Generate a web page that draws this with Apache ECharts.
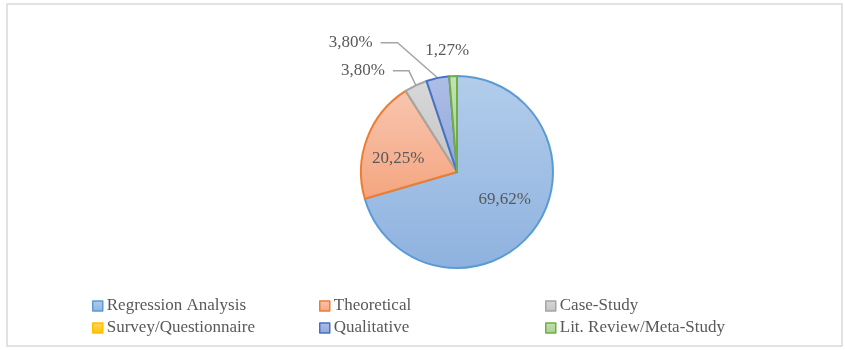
<!DOCTYPE html>
<html>
<head>
<meta charset="utf-8">
<script src="https://cdn.jsdelivr.net/npm/echarts@6/dist/echarts.min.js"></script>
<style>
  html, body { margin: 0; padding: 0; background: #fff; }
  #chart { width: 845px; height: 350px; }
</style>
</head>
<body>
<div id="chart"></div>
<script>
// Research method shares (percent of studies)
const categories = ['Regression Analysis', 'Theoretical', 'Case-Study', 'Survey/Questionnaire', 'Qualitative', 'Lit. Review/Meta-Study'];
const shares = [69.62, 20.25, 3.80, 0, 3.80, 1.27];

// Fill gradients (top, bottom) and outline colours per method
const fillTop = ['#b3cdeb', '#f8c6b0', '#d8d8d8', '#ffd966', '#aebee6', '#c3e2b2'];
const fillBottom = ['#8eb2df', '#f4a57f', '#c4c4c4', '#ffc000', '#92a6dc', '#a8d08d'];
const outline = ['#5b9bd5', '#ed7d31', '#a5a5a5', '#ffc000', '#4472c4', '#70ad47'];

const fontFamily = '"Liberation Serif", "DejaVu Serif", serif';
const textColor = '#595959';

function grad(i) {
  return new echarts.graphic.LinearGradient(0, 0, 0, 1, [
    { offset: 0, color: fillTop[i] },
    { offset: 1, color: fillBottom[i] }
  ]);
}

// Per-slice label placement: large slices inside, small ones outside with leader lines
const labelSetup = [
  { position: 'inside' },
  { position: 'inside' },
  { position: 'outside', line: true, length: 16, length2: 16 },
  { show: false },
  { position: 'outside', line: true, length: 36, length2: 50 },
  { position: 'outside', line: false, length: 26, length2: 0 }
];

// Label nudges (dx, dy) and leader-line elbow shift per slice
const labelNudge = [[7, -3], [-11, 5], [0, 0], [0, 0], [0, 0], [25, 0]];
const elbowShift = [0, 0, 0, 0, -33, 0];

const pieData = categories.map((name, i) => {
  const s = labelSetup[i];
  return {
    name: name,
    value: shares[i],
    itemStyle: {
      color: grad(i),
      borderColor: outline[i],
      borderWidth: shares[i] > 0 ? 2 : 0
    },
    label: { show: s.show !== false, position: s.position || 'outside' },
    labelLine: {
      show: !!s.line,
      length: s.length || 0,
      length2: s.length2 || 0
    }
  };
});

function legendFor(names, left) {
  return {
    orient: 'vertical',
    left: left,
    top: 297,
    padding: 0,
    itemWidth: 10,
    itemHeight: 10,
    itemGap: 4,
    icon: 'rect',
    selectedMode: false,
    data: names.map(n => {
      const i = categories.indexOf(n);
      return {
        name: n,
        itemStyle: { color: grad(i), borderColor: outline[i], borderWidth: 1.5 }
      };
    }),
    textStyle: {
      fontFamily: fontFamily,
      fontSize: 17,
      lineHeight: 18,
      color: textColor,
      padding: [0, 0, 0, -1]
    }
  };
}

const chart = echarts.init(document.getElementById('chart'), null, { renderer: 'canvas' });

chart.setOption({
  backgroundColor: '#ffffff',
  animation: false,
  graphic: [{
    type: 'rect',
    shape: { x: 7, y: 4, width: 835, height: 342 },
    style: { fill: 'none', stroke: '#d9d9d9', lineWidth: 1.5 },
    silent: true
  }],
  legend: [
    legendFor([categories[0], categories[3]], 92),
    legendFor([categories[1], categories[4]], 319),
    legendFor([categories[2], categories[5]], 545)
  ],
  series: [{
    type: 'pie',
    center: [457, 172],
    radius: 96,
    startAngle: 90,
    clockwise: true,
    avoidLabelOverlap: false,
    emphasis: { disabled: true },
    label: {
      fontFamily: fontFamily,
      fontSize: 17,
      color: textColor,
      distanceToLabelLine: 8,
      formatter: p => p.value.toFixed(2).replace('.', ',') + '%'
    },
    labelLine: {
      lineStyle: { color: '#a5a5a5', width: 1.5 }
    },
    labelLayout: function (p) {
      const i = p.dataIndex;
      const out = { dx: labelNudge[i][0], dy: labelNudge[i][1] };
      const pts = p.labelLinePoints;
      if (elbowShift[i] && pts && pts.length === 3) {
        out.labelLinePoints = [
          pts[0],
          [pts[1][0] + elbowShift[i], pts[1][1]],
          pts[2]
        ];
      }
      return out;
    },
    data: pieData
  }]
});
</script>
</body>
</html>
